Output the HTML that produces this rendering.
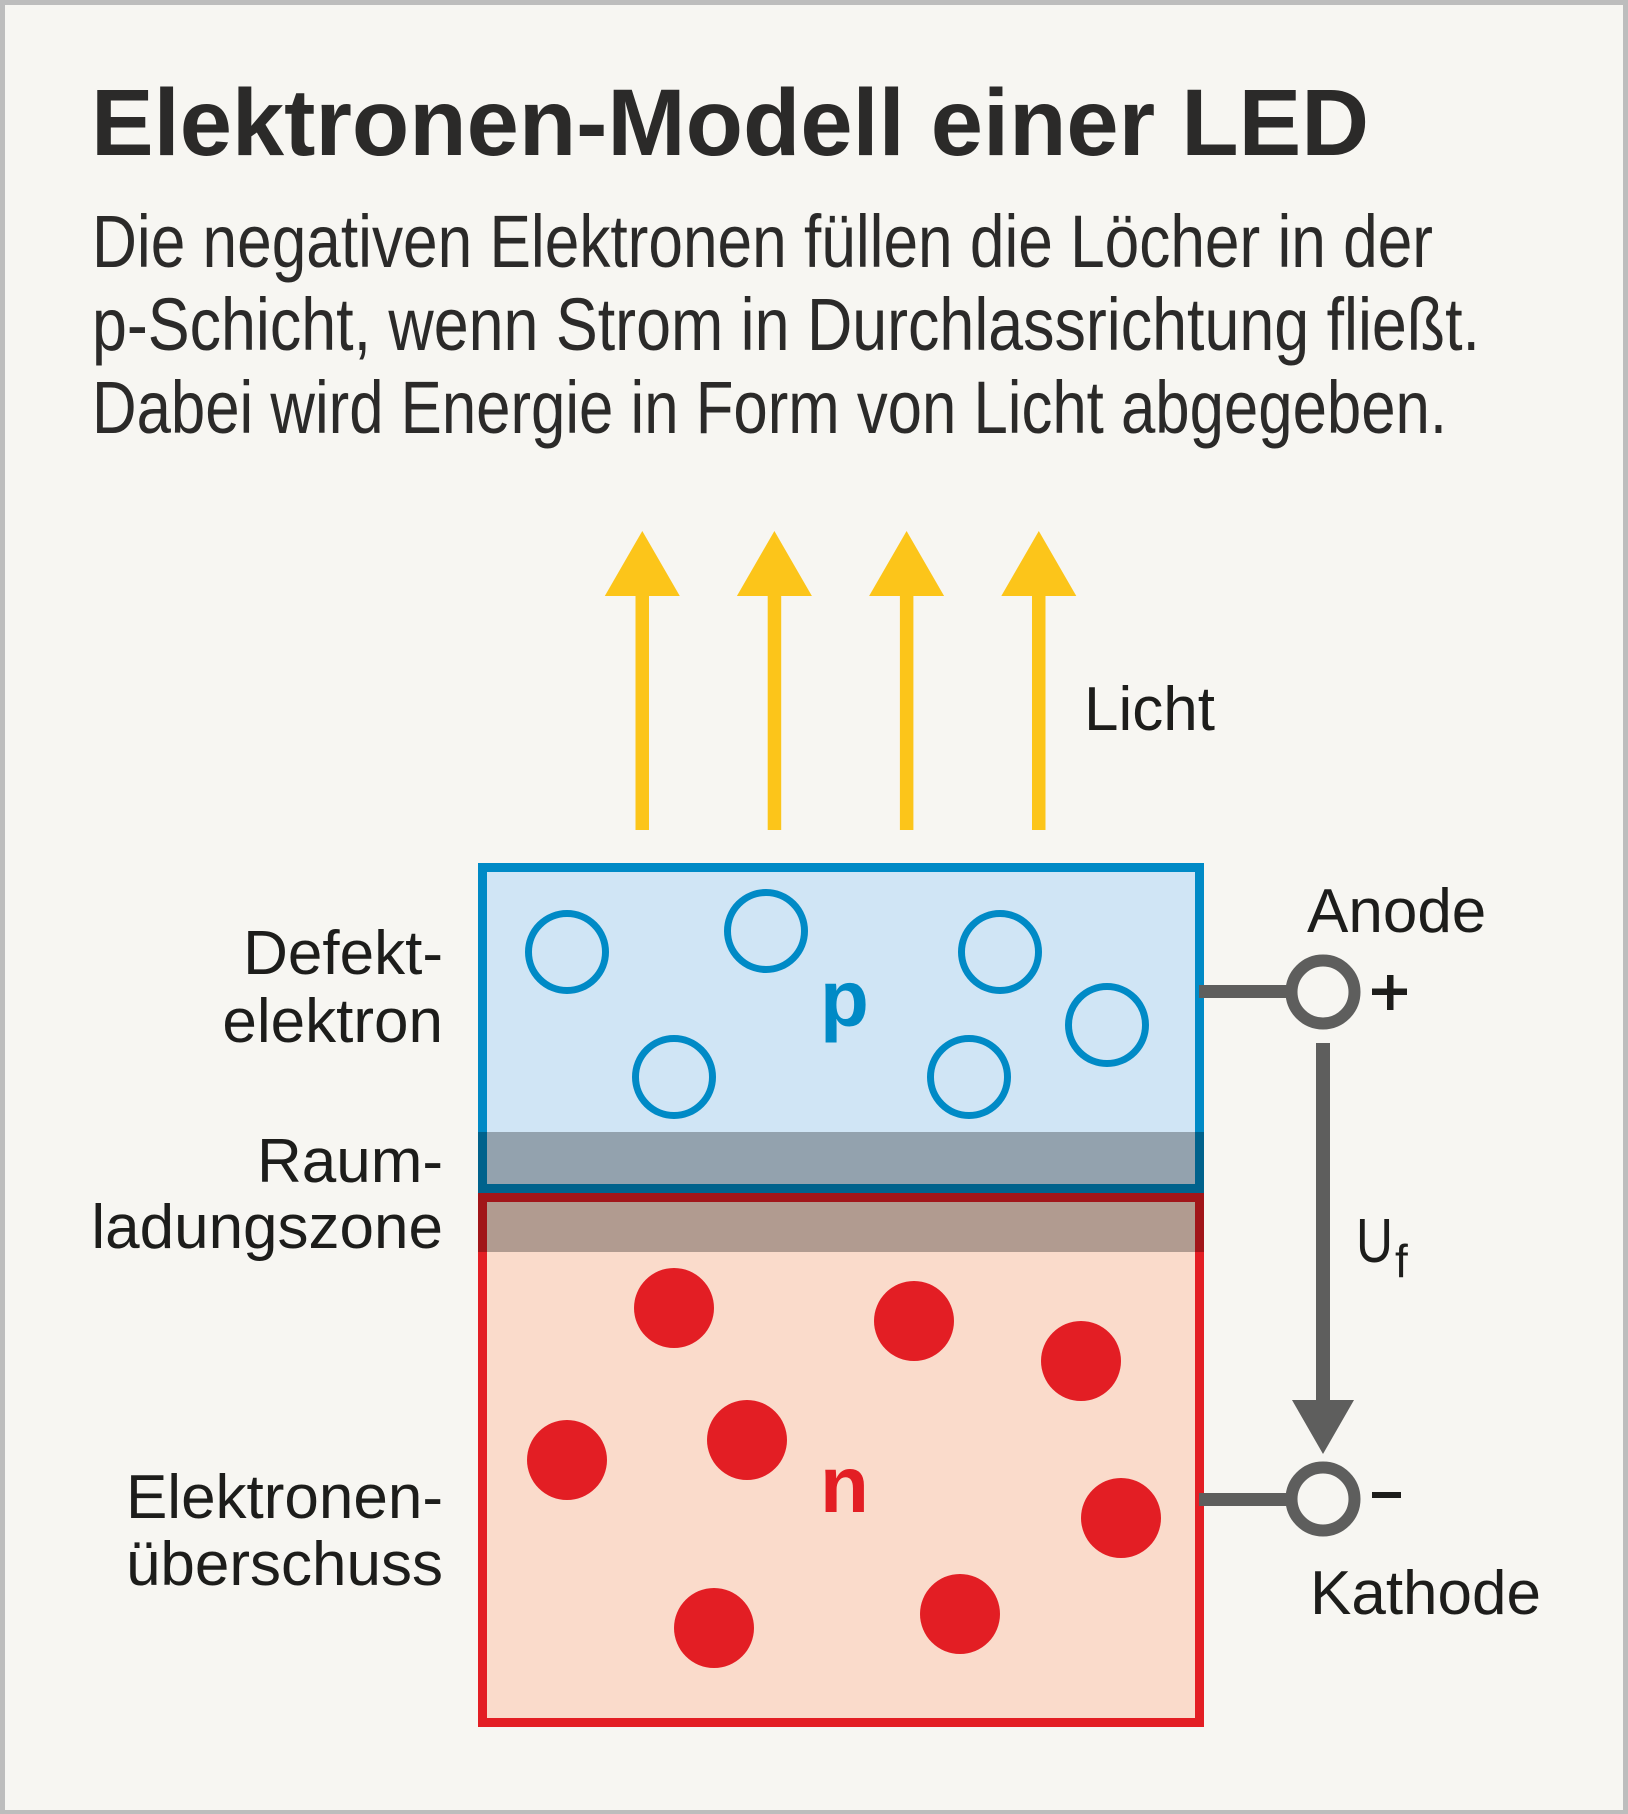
<!DOCTYPE html>
<html>
<head>
<meta charset="utf-8">
<style>
html,body{margin:0;padding:0;background:#BDBDBD;}
svg{display:block;}
</style>
</head>
<body>
<svg width="1628" height="1814" viewBox="0 0 1628 1814" xmlns="http://www.w3.org/2000/svg">
  <!-- frame -->
  <rect x="0" y="0" width="1628" height="1814" fill="#BDBDBD"/>
  <rect x="5" y="5" width="1618" height="1805" fill="#F7F6F2"/>

  <!-- title -->
  <text x="91" y="155" font-family="Liberation Sans, Arial, sans-serif" font-weight="bold" font-size="95" fill="#2B2A29" textLength="1278" lengthAdjust="spacingAndGlyphs">Elektronen-Modell einer LED</text>

  <!-- paragraph -->
  <g font-family="Liberation Sans, Arial, sans-serif" font-size="74" fill="#2B2A29">
    <text x="92" y="267" textLength="1341" lengthAdjust="spacingAndGlyphs">Die negativen Elektronen füllen die Löcher in der</text>
    <text x="92" y="350" textLength="1388" lengthAdjust="spacingAndGlyphs">p-Schicht, wenn Strom in Durchlassrichtung fließt.</text>
    <text x="92" y="433" textLength="1355" lengthAdjust="spacingAndGlyphs">Dabei wird Energie in Form von Licht abgegeben.</text>
  </g>

  <!-- light arrows -->
  <g fill="#FCC51A">
    <rect x="635.5" y="594" width="13.5" height="236"/>
    <polygon points="642.3,531 679.8,596 604.8,596"/>
    <rect x="767.7" y="594" width="13.5" height="236"/>
    <polygon points="774.4,531 811.9,596 736.9,596"/>
    <rect x="899.9" y="594" width="13.5" height="236"/>
    <polygon points="906.6,531 944.1,596 869.1,596"/>
    <rect x="1032" y="594" width="13.5" height="236"/>
    <polygon points="1038.8,531 1076.3,596 1001.3,596"/>
  </g>

  <!-- labels -->
  <g font-family="Liberation Sans, Arial, sans-serif" font-size="62" fill="#1D1D1B">
    <text x="1084" y="730">Licht</text>
    <text x="1307" y="932">Anode</text>
    <text x="1310" y="1614">Kathode</text>
    <text x="443" y="974" text-anchor="end">Defekt-</text>
    <text x="443" y="1042" text-anchor="end">elektron</text>
    <text x="443" y="1182" text-anchor="end">Raum-</text>
    <text x="443" y="1248" text-anchor="end">ladungszone</text>
    <text x="443" y="1518" text-anchor="end">Elektronen-</text>
    <text x="443" y="1585" text-anchor="end">überschuss</text>
    <text x="1356" y="1262" textLength="37" lengthAdjust="spacingAndGlyphs">U</text>
    <text x="1395" y="1277" font-size="46">f</text>
  </g>

  <!-- n box -->
  <rect x="482.5" y="1197.5" width="717" height="525" fill="#FADBCB" stroke="#E31E24" stroke-width="9"/>
  <!-- p box -->
  <rect x="482.5" y="867.5" width="717" height="321" fill="#D0E5F5" stroke="#008AC6" stroke-width="9"/>

  <!-- space-charge band -->
  <rect x="478" y="1132" width="726" height="120" fill="#000" fill-opacity="0.29"/>

  <!-- holes -->
  <g fill="none" stroke="#008AC6" stroke-width="7">
    <circle cx="567" cy="952" r="38.5"/>
    <circle cx="766" cy="931" r="38.5"/>
    <circle cx="1000" cy="952" r="38.5"/>
    <circle cx="1107" cy="1025" r="38.5"/>
    <circle cx="674" cy="1077" r="38.5"/>
    <circle cx="969" cy="1077" r="38.5"/>
  </g>
  <text x="820" y="1026" font-family="Liberation Sans, Arial, sans-serif" font-weight="bold" font-size="80" fill="#008AC6">p</text>

  <!-- electrons -->
  <g fill="#E31E24">
    <circle cx="674" cy="1308" r="40"/>
    <circle cx="914" cy="1321" r="40"/>
    <circle cx="1081" cy="1361" r="40"/>
    <circle cx="567" cy="1460" r="40"/>
    <circle cx="747" cy="1440" r="40"/>
    <circle cx="1121" cy="1518" r="40"/>
    <circle cx="714" cy="1628" r="40"/>
    <circle cx="960" cy="1614" r="40"/>
  </g>
  <text x="820" y="1512" font-family="Liberation Sans, Arial, sans-serif" font-weight="bold" font-size="80" fill="#E31E24">n</text>

  <!-- connectors -->
  <g fill="#5E5E5D">
    <rect x="1199" y="985" width="95" height="13"/>
    <rect x="1199" y="1493" width="95" height="13"/>
    <rect x="1316" y="1043" width="14" height="360"/>
    <polygon points="1292,1400 1354,1400 1323,1454"/>
  </g>
  <g fill="#F7F6F2" stroke="#5E5E5D" stroke-width="12">
    <circle cx="1323" cy="992" r="31.5"/>
    <circle cx="1323" cy="1499" r="31.5"/>
  </g>
  <!-- plus / minus -->
  <g fill="#1D1D1B">
    <rect x="1372" y="988.5" width="35" height="6.5"/>
    <rect x="1387" y="975" width="6.5" height="35"/>
    <rect x="1372" y="1492" width="29" height="6"/>
  </g>
</svg>
</body>
</html>
